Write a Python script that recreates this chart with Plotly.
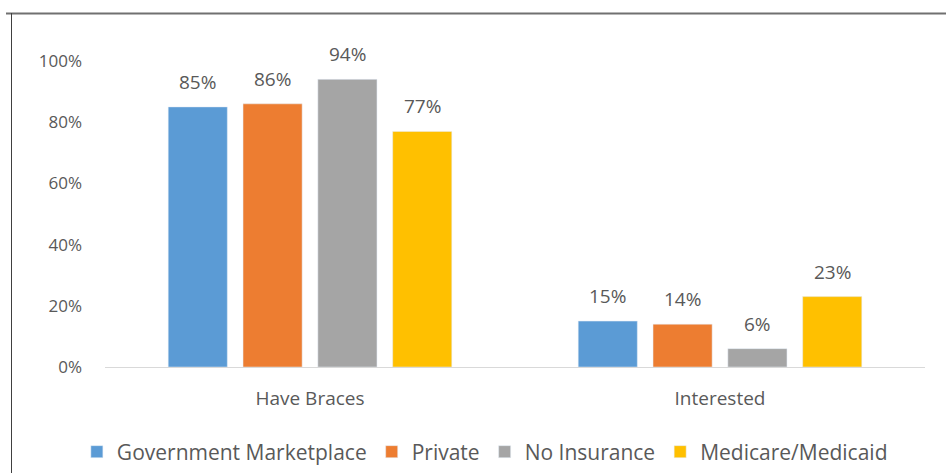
import plotly.graph_objects as go

categories = ["Have Braces", "Interested"]
series_names = ["Government Marketplace", "Private", "No Insurance", "Medicare/Medicaid"]
gov_market = [0.85, 0.15]
private = [0.86, 0.14]
no_insurance = [0.94, 0.06]
medicare = [0.77, 0.23]
y_ticks = [0, 0.2, 0.4, 0.6, 0.8, 1.0]
y_tick_labels = ["0%", "20%", "40%", "60%", "80%", "100%"]

colors = ["#5B9BD5", "#ED7D31", "#A5A5A5", "#FFC000"]
values = [gov_market, private, no_insurance, medicare]

W, H = 947, 473
L, R, T, B = 105, 22, 61, 106
FONT = "Open Sans"
TXT = "#595959"
BARGAP = 0.27

fig = go.Figure()
for name, vals, col in zip(series_names, values, colors):
    fig.add_trace(go.Bar(
        x=categories, y=vals, name=name, marker_color=col,
    ))

# data labels as annotations, placed over each bar centre
n = len(series_names)
slot = (1 - BARGAP) / n
annotations = []
for k, vals in enumerate(values):
    off = -(1 - BARGAP) / 2 + slot * (k + 0.5)
    for i, v in enumerate(vals):
        annotations.append(dict(
            x=i + off, y=v, xref="x", yref="y",
            text=f"{round(v * 100)}%", showarrow=False,
            yanchor="middle", yshift=25,
            font=dict(family=FONT, size=19, color=TXT),
        ))

def px_to_paper_x(px):
    return (px - L) / (W - L - R)

def px_to_paper_y(py):
    return (H - B - py) / (H - T - B)

fig.update_layout(
    width=W, height=H,
    margin=dict(l=L, r=R, t=T, b=B, autoexpand=False),
    paper_bgcolor="white", plot_bgcolor="white",
    font=dict(family=FONT, color=TXT, size=17),
    barmode="group", bargap=BARGAP, bargroupgap=0.21,
    showlegend=True,
    legend=dict(orientation="h", x=0.512, xanchor="center", xref="container",
                y=(H - 452) / H, yanchor="middle", yref="container",
                font=dict(family=FONT, size=21, color=TXT),
                itemwidth=30, traceorder="normal"),
    xaxis=dict(showline=True, linecolor="#D9D9D9", linewidth=1, ticks="",
               tickfont=dict(family=FONT, size=19, color=TXT), showgrid=False,
               ticklabelstandoff=14),
    yaxis=dict(range=[0, 1], tickvals=y_ticks, ticktext=y_tick_labels,
               showgrid=False, zeroline=False, ticks="",
               tickfont=dict(family=FONT, size=17, color=TXT),
               ticklabelstandoff=22),
    annotations=annotations,
    shapes=[
        dict(type="line", xref="paper", yref="paper",
             x0=px_to_paper_x(6), x1=px_to_paper_x(946),
             y0=px_to_paper_y(13.5), y1=px_to_paper_y(13.5),
             line=dict(color="#707070", width=2)),
        dict(type="line", xref="paper", yref="paper",
             x0=px_to_paper_x(11.5), x1=px_to_paper_x(11.5),
             y0=px_to_paper_y(13), y1=px_to_paper_y(473),
             line=dict(color="#404040", width=1)),
    ],
)

fig.write_html("out.html")
